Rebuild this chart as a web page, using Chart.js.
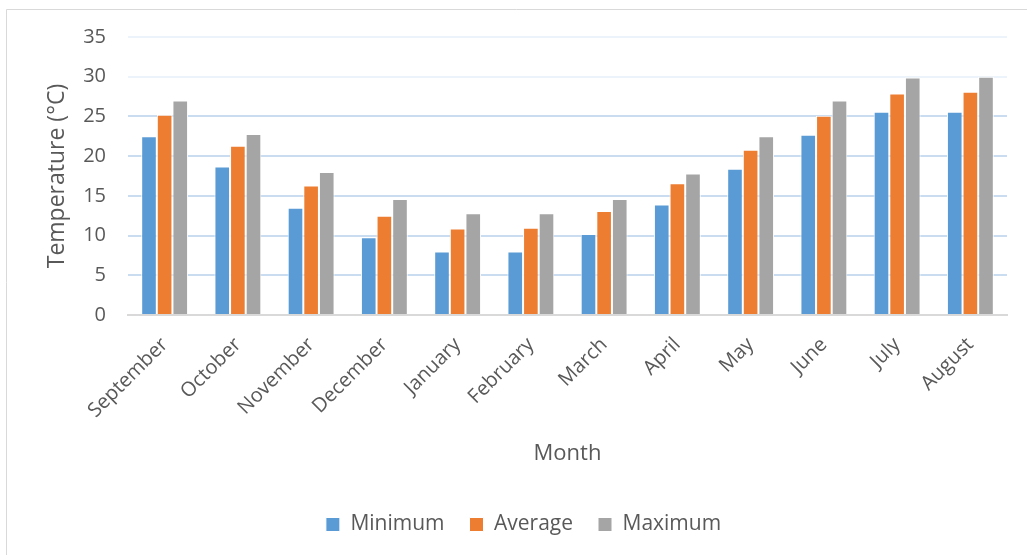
<!DOCTYPE html>
<html>
<head>
<meta charset="utf-8">
<script src="https://cdn.jsdelivr.net/npm/chart.js@4.4.1/dist/chart.umd.min.js"></script>
<style>
  html, body { margin: 0; padding: 0; background: #ffffff; }
  #wrap { width: 1027px; height: 555px; position: relative; }
</style>
</head>
<body>
<div id="wrap"><canvas id="c" width="1027" height="555"></canvas></div>
<script>
// Monthly temperatures (°C)
const months = ['September', 'October', 'November', 'December', 'January', 'February',
                'March', 'April', 'May', 'June', 'July', 'August'];
const minimum = [22.5, 18.7, 13.5, 9.8, 8.0, 8.0, 10.2, 13.9, 18.4, 22.7, 25.6, 25.6];
const average = [25.2, 21.3, 16.3, 12.5, 10.9, 11.0, 13.1, 16.6, 20.8, 25.1, 27.9, 28.1];
const maximum = [27.0, 22.8, 18.0, 14.6, 12.8, 12.8, 14.6, 17.8, 22.5, 27.0, 29.9, 30.0];
const yTicks = [0, 5, 10, 15, 20, 25, 30, 35];

const textColor = '#595959';
const fontFamily = '"Open Sans", "DejaVu Sans", sans-serif';

// thin frame along the top and left edges
const framePlugin = {
  id: 'frame',
  beforeDraw(chart) {
    const ctx = chart.ctx;
    ctx.save();
    ctx.fillStyle = '#ffffff';
    ctx.fillRect(0, 0, chart.width, chart.height);
    ctx.strokeStyle = '#d9d9d9';
    ctx.lineWidth = 1;
    ctx.beginPath();
    ctx.moveTo(6.5, chart.height);
    ctx.lineTo(6.5, 9.5);
    ctx.lineTo(chart.width, 9.5);
    ctx.stroke();
    ctx.restore();
  }
};

// nudge the legend row to the right
const legendShift = {
  id: 'legendShift',
  afterLayout(chart) {
    const lg = chart.legend;
    if (lg) { lg.left += 17; lg.right += 17; }
  }
};

function bar(label, data, color) {
  return {
    label, data,
    backgroundColor: color,
    borderColor: '#ffffff',
    borderWidth: 1,
    barPercentage: 1,
    categoryPercentage: 0.64
  };
}

new Chart(document.getElementById('c'), {
  type: 'bar',
  data: {
    labels: months,
    datasets: [
      bar('Minimum', minimum, '#5b9bd5'),
      bar('Average', average, '#ed7d31'),
      bar('Maximum', maximum, '#a5a5a5')
    ]
  },
  plugins: [framePlugin, legendShift],
  options: {
    responsive: false,
    animation: false,
    layout: { padding: { top: 37, left: 6, right: 20, bottom: 10 } },
    plugins: {
      tooltip: { enabled: false },
      legend: {
        position: 'bottom',
        labels: {
          color: textColor,
          font: { family: fontFamily, size: 21 },
          boxWidth: 14,
          boxHeight: 14,
          padding: 25
        }
      }
    },
    scales: {
      x: {
        grid: { display: false },
        border: { color: '#d9d9d9', width: 2 },
        ticks: {
          color: textColor,
          font: { family: fontFamily, size: 20 },
          maxRotation: 45,
          minRotation: 45,
          padding: 10
        },
        title: {
          display: true,
          text: 'Month',
          color: textColor,
          font: { family: fontFamily, size: 22 },
          padding: { top: 22, bottom: 22 }
        },
        afterFit(scale) { scale.height = 174; }
      },
      y: {
        min: 0,
        max: 35,
        afterBuildTicks(scale) { scale.ticks = yTicks.map(v => ({ value: v })); },
        grid: {
          drawTicks: false,
          lineWidth: 2,
          color(ctx) {
            const v = ctx.tick ? ctx.tick.value : 0;
            if (v === 0) return '#d9d9d9';
            return v >= 30 ? '#edf3fa' : '#c9dcf0';
          }
        },
        border: { display: false },
        ticks: {
          color: textColor,
          font: { family: fontFamily, size: 20 },
          padding: 22
        },
        title: {
          display: true,
          text: 'Temperature (°C)',
          color: textColor,
          font: { family: fontFamily, size: 23 },
          padding: { top: 38, bottom: 38 }
        },
        afterFit(scale) { scale.width = 122; }
      }
    }
  }
});
</script>
</body>
</html>
